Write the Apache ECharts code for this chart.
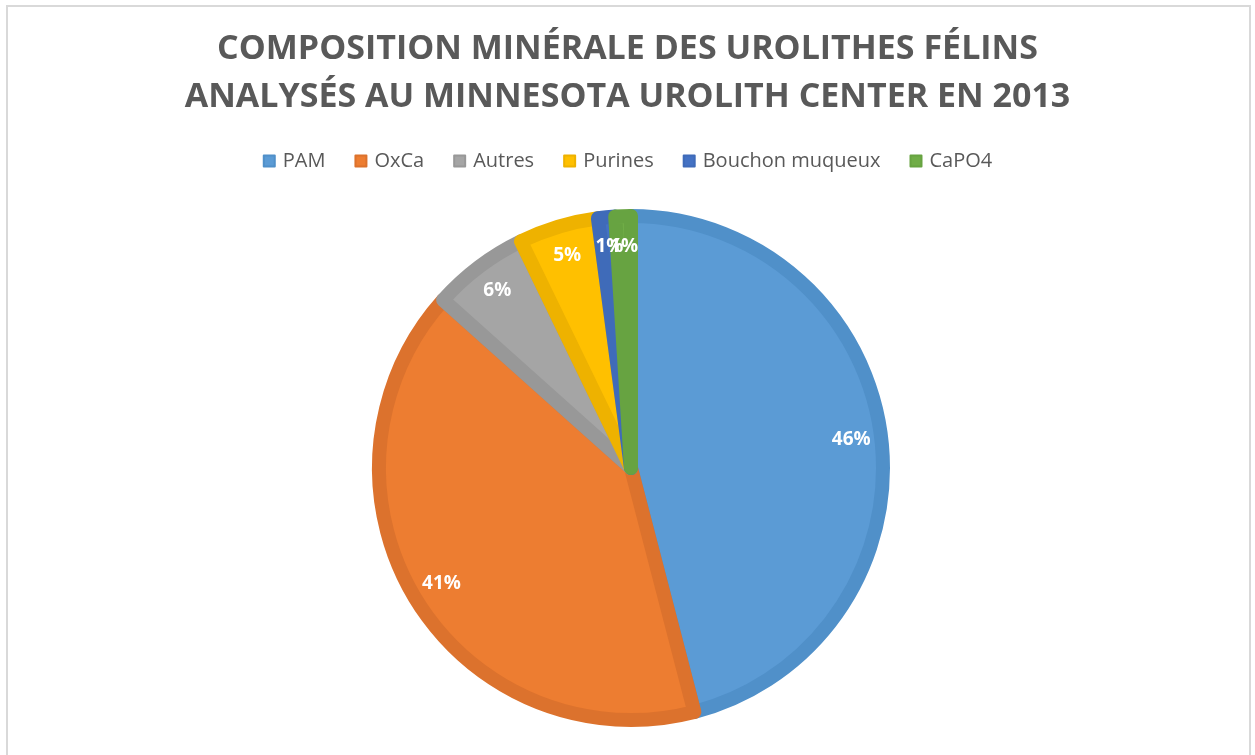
<!DOCTYPE html>
<html>
<head>
<meta charset="utf-8">
<script src="https://cdn.jsdelivr.net/npm/echarts@6/dist/echarts.min.js"></script>
<style>
  body { margin: 0; background: #fff; }
  #frame {
    position: absolute; left: 6px; top: 5px; width: 1245px; height: 760px;
    border: 2px solid #d9d9d9; border-bottom: none; box-sizing: border-box;
  }
  #main { position: absolute; left: 0; top: 0; width: 1255px; height: 755px; }
</style>
</head>
<body>
<div id="frame"></div>
<div id="main"></div>
<script>
// données du graphique
const categories = ["PAM", "OxCa", "Autres", "Purines", "Bouchon muqueux", "CaPO4"];
const values = [46.0, 40.7, 6.2, 5.1, 1.1, 1.0];
const colors = ["#5b9bd5", "#ed7d31", "#a5a5a5", "#ffc000", "#4472c4", "#70ad47"];
const borderColors = ["#5090c9", "#dc722d", "#989898", "#eeb200", "#3f6bb9", "#67a341"];

const titleText = "COMPOSITION MINÉRALE DES UROLITHES FÉLINS\nANALYSÉS AU MINNESOTA UROLITH CENTER EN 2013";

const chart = echarts.init(document.getElementById("main"));

const pieData = categories.map((name, i) => ({
  name: name,
  value: values[i],
  itemStyle: { color: colors[i], borderColor: borderColors[i] },
}));

const option = {
  animation: false,
  title: {
    text: titleText,
    left: "center",
    top: 20,
    textStyle: {
      fontFamily: "Open Sans",
      fontWeight: "bold",
      fontSize: 34,
      lineHeight: 48,
      color: "#595959",
    },
  },
  legend: {
    top: 146,
    left: "center",
    itemWidth: 11,
    itemHeight: 11,
    itemGap: 29,
    icon: "rect",
    data: categories,
    textStyle: { fontFamily: "Open Sans", fontSize: 20, color: "#595959", padding: [0, 0, 0, 3] },
  },
  series: [
    {
      // secteurs
      name: "Urolithes",
      type: "pie",
      center: [631, 468],
      radius: 252,
      startAngle: 90,
      clockwise: true,
      silent: true,
      label: { show: false },
      labelLine: { show: false },
      itemStyle: { borderWidth: 14 },
      data: pieData,
    },
    {
      // étiquettes de pourcentage
      name: "Etiquettes",
      type: "pie",
      center: [631, 468],
      radius: [176, 262],
      startAngle: 90,
      clockwise: true,
      silent: true,
      avoidLabelOverlap: false,
      labelLayout: { hideOverlap: false },
      itemStyle: { color: "transparent", borderWidth: 0 },
      label: {
        show: true,
        position: "inside",
        fontFamily: "Open Sans",
        fontWeight: "bold",
        fontSize: 19,
        color: "#ffffff",
        formatter: function (p) {
          return Math.round(p.percent) + "%";
        },
      },
      labelLine: { show: false },
      data: categories.map((name, i) => ({ name: name, value: values[i] })),
    },
  ],
};

chart.setOption(option);
</script>
</body>
</html>
